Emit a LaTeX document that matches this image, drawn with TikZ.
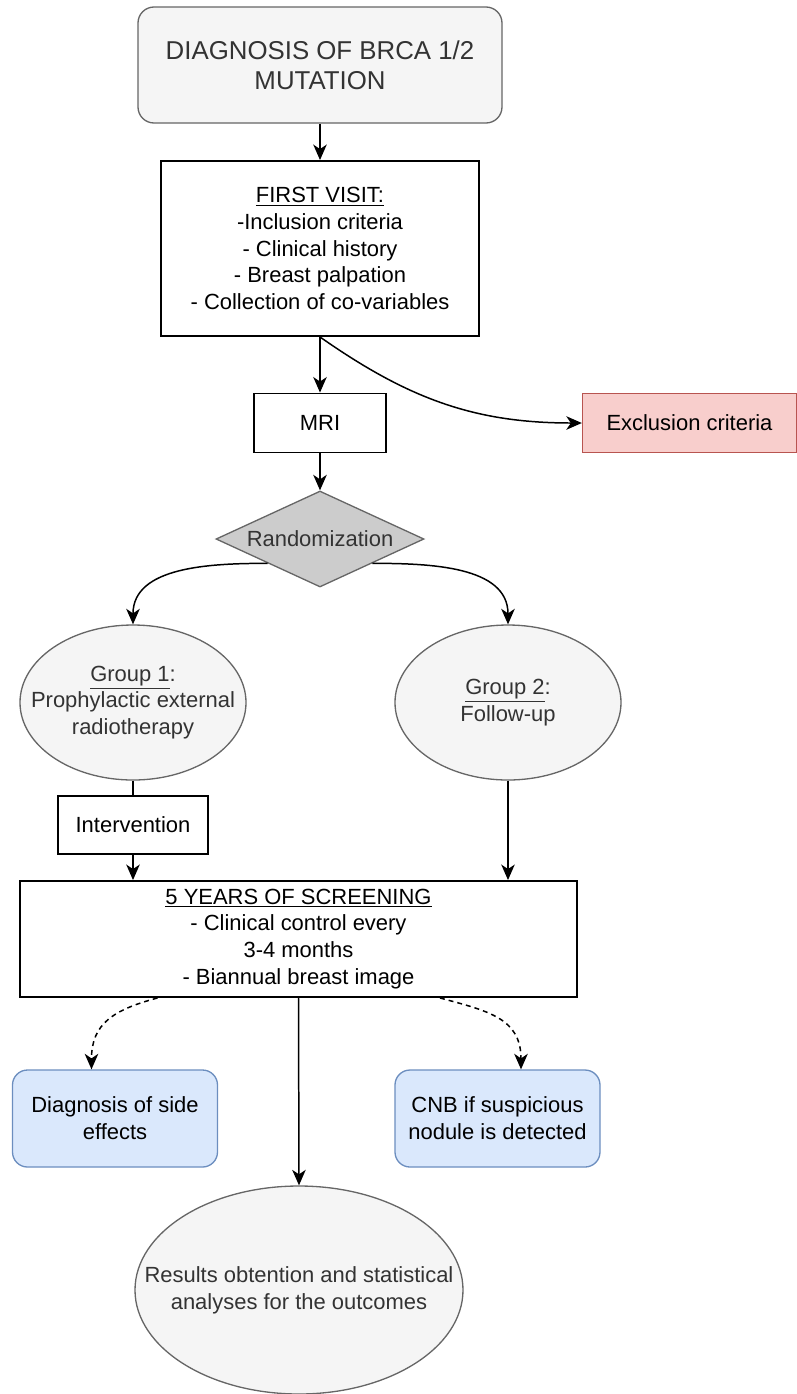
\documentclass[tikz,border=0pt]{standalone}
\usepackage{fontspec}
\setmainfont{Liberation Sans}
\usetikzlibrary{arrows.meta,shapes.geometric}
\def\px{0.02cm}
\definecolor{greyfill}{HTML}{F5F5F5}
\definecolor{greyline}{HTML}{666666}
\definecolor{greytext}{HTML}{333333}
\definecolor{diafill}{HTML}{CCCCCC}
\definecolor{redfill}{HTML}{F8CECC}
\definecolor{redline}{HTML}{B85450}
\definecolor{bluefill}{HTML}{DAE8FC}
\definecolor{blueline}{HTML}{6C8EBF}

\begin{document}
\begin{tikzpicture}[x=\px, y=-\px,
	txt/.style={align=center, inner sep=0pt, font=\fontsize{12.5}{15.3}\selectfont},
	plainbox/.style={txt, rectangle, draw=black, line width=1.1pt, fill=white},
	greybox/.style={txt, rectangle, rounded corners=0.32cm, draw=greyline, line width=0.75pt, fill=greyfill, text=greytext},
	greyoval/.style={ellipse, inner sep=0pt, draw=greyline, line width=0.75pt, fill=greyfill, label={[txt, text=greytext]center:#1}},
	redbox/.style={txt, rectangle, draw=redline, line width=0.75pt, fill=redfill},
	bluebox/.style={txt, rectangle, rounded corners=0.3cm, draw=blueline, line width=0.75pt, fill=bluefill},
	arr/.style={line width=0.85pt, -{Stealth[length=0.31cm, width=0.27cm, inset=0.09cm]}},
	dasharr/.style={arr, dash pattern=on 2.8pt off 2.3pt}
	]
	%%%%% START %%%%%
	\useasboundingbox (0,0) rectangle (797,1394);
	
	\node[greybox, minimum width=364*\px, minimum height=116*\px, font=\fontsize{14.7}{17}\selectfont] (diag) at (320,65) {DIAGNOSIS OF BRCA 1/2\\MUTATION};
	
	\node[plainbox, minimum width=318*\px, minimum height=175*\px] (first) at (320,248.5) {\underline{FIRST VISIT:}\\-Inclusion criteria\\- Clinical history\\- Breast palpation\\- Collection of co-variables};
	
	\node[plainbox, minimum width=132*\px, minimum height=59*\px] (mri) at (320,423) {MRI};
	\node[redbox, minimum width=214*\px, minimum height=59*\px] (excl) at (689.5,423) {Exclusion criteria};
	
	\node[diamond, draw=greyline, line width=0.75pt, fill=diafill, text=greytext, inner sep=0pt, aspect=2.17, minimum width=208*\px, minimum height=96*\px, font=\fontsize{12.5}{15.3}\selectfont] (rand) at (320,539) {Randomization};
	
	\node[greyoval={\underline{Group 1}:\\Prophylactic external\\radiotherapy}, minimum width=226*\px, minimum height=155*\px] (grpone) at (133,702.5) {};
	\node[greyoval={\underline{Group 2}:\\Follow-up}, minimum width=226*\px, minimum height=155*\px] (grptwo) at (508,702.5) {};
	
	\node[plainbox, minimum width=150*\px, minimum height=58*\px] (interv) at (133,825) {Intervention};
	
	\node[plainbox, minimum width=557*\px, minimum height=116*\px] (screen) at (298.5,939) {\underline{5 YEARS OF SCREENING}\\- Clinical control every\\3-4 months\\- Biannual breast image};
	
	\node[bluebox, minimum width=205*\px, minimum height=97*\px] (side) at (115,1118.5) {Diagnosis of side\\effects};
	\node[bluebox, minimum width=205*\px, minimum height=97*\px] (cnb) at (497.5,1118.5) {CNB if suspicious\\nodule is detected};
	
	\node[greyoval={Results obtention and statistical\\analyses for the outcomes}, minimum width=328*\px, minimum height=208*\px] (results) at (299,1290) {};
	
	% connectors
	\draw[arr] (diag.south) -- (first.north);
	\draw[arr] (first.south) -- (mri.north);
	\draw[arr] (first.south) to[out=-35, in=180] (excl.west);
	\draw[arr] (mri.south) -- (rand.north);
	
	\draw[arr] (rand.south west) to[out=180, in=90] (grpone.north);
	\draw[arr] (rand.south east) to[out=0, in=90] (grptwo.north);
	
	\draw[line width=0.85pt] (grpone.south) -- (interv.north);
	\draw[arr] (interv.south) -- (interv.south |- screen.north);
	\draw[arr] (grptwo.south) -- (grptwo.south |- screen.north);
	
	\draw[dasharr] ([xshift=-141*\px]screen.south) to[out=195, in=90, looseness=1.2] ([xshift=-23.5*\px]side.north);
	\draw[dasharr] ([xshift=141.5*\px]screen.south) to[out=-15, in=90, looseness=1.2] ([xshift=23.5*\px]cnb.north);
	\draw[arr] (screen.south) -- (results.north);
	
	%%%%% END %%%%%
\end{tikzpicture}
\end{document}
